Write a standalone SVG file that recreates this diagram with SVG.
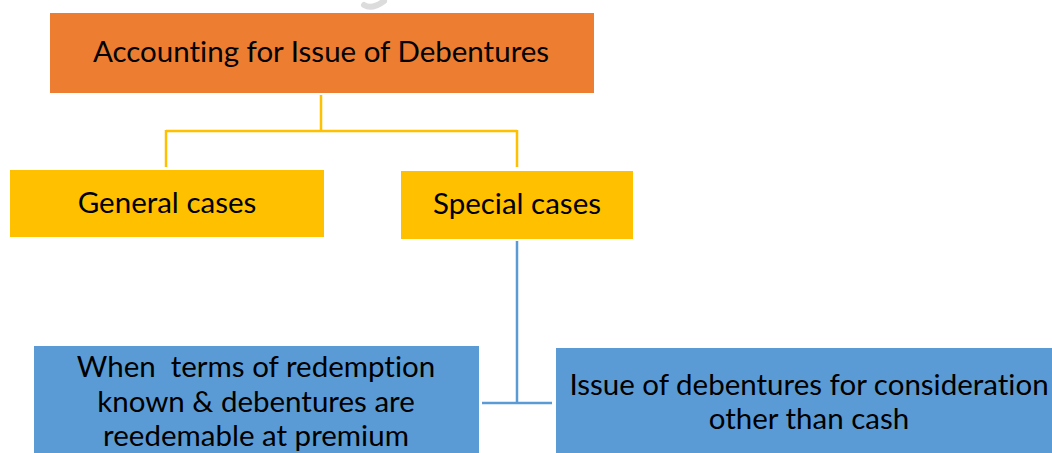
<svg xmlns="http://www.w3.org/2000/svg" width="1052" height="453" viewBox="0 0 1052 453">
  <style>
    .lbl { font-family: Lato, "Liberation Sans", sans-serif; font-size: 29.5px; fill: #000; text-anchor: middle; font-variant-ligatures: none; }
    .yl { stroke: #FFC000; stroke-width: 2.5; fill: none; }
    .bl { stroke: #5B9BD5; stroke-width: 2.5; fill: none; }
  </style>
  <rect width="1052" height="453" fill="#fff"/>
  <!-- faint mark at top edge -->
  <path d="M364 5 Q372 10 384 1" stroke="#DCDCDC" stroke-width="6" fill="none" stroke-linecap="round"/>

  <g id="connectors">
    <path class="yl" d="M321 95 V131 M166 131 H517 M166 130 V167 M517 130 V167"/>
    <path class="bl" d="M517 241 V403 M482 403 H552"/>
  </g>

  <g id="root">
    <rect x="50" y="13" width="544" height="80" fill="#ED7D31"/>
    <text class="lbl" x="321" y="62">Accounting for Issue of Debentures</text>
  </g>

  <g id="general">
    <rect x="10" y="170" width="314" height="67" fill="#FFC000"/>
    <text class="lbl" x="167" y="213">General cases</text>
  </g>

  <g id="special">
    <rect x="401" y="171" width="232" height="68" fill="#FFC000"/>
    <text class="lbl" x="517" y="214">Special cases</text>
  </g>

  <g id="premium">
    <rect x="34" y="346" width="445" height="107" fill="#5B9BD5"/>
    <text class="lbl" x="256" y="377" xml:space="preserve">When  terms of redemption</text>
    <text class="lbl" x="256" y="412">known &amp; debentures are</text>
    <text class="lbl" x="256" y="446">reedemable at premium</text>
  </g>

  <g id="noncash">
    <rect x="556" y="348" width="496" height="105" fill="#5B9BD5"/>
    <text class="lbl" x="809" y="395">Issue of debentures for consideration</text>
    <text class="lbl" x="809" y="429">other than cash</text>
  </g>
</svg>
